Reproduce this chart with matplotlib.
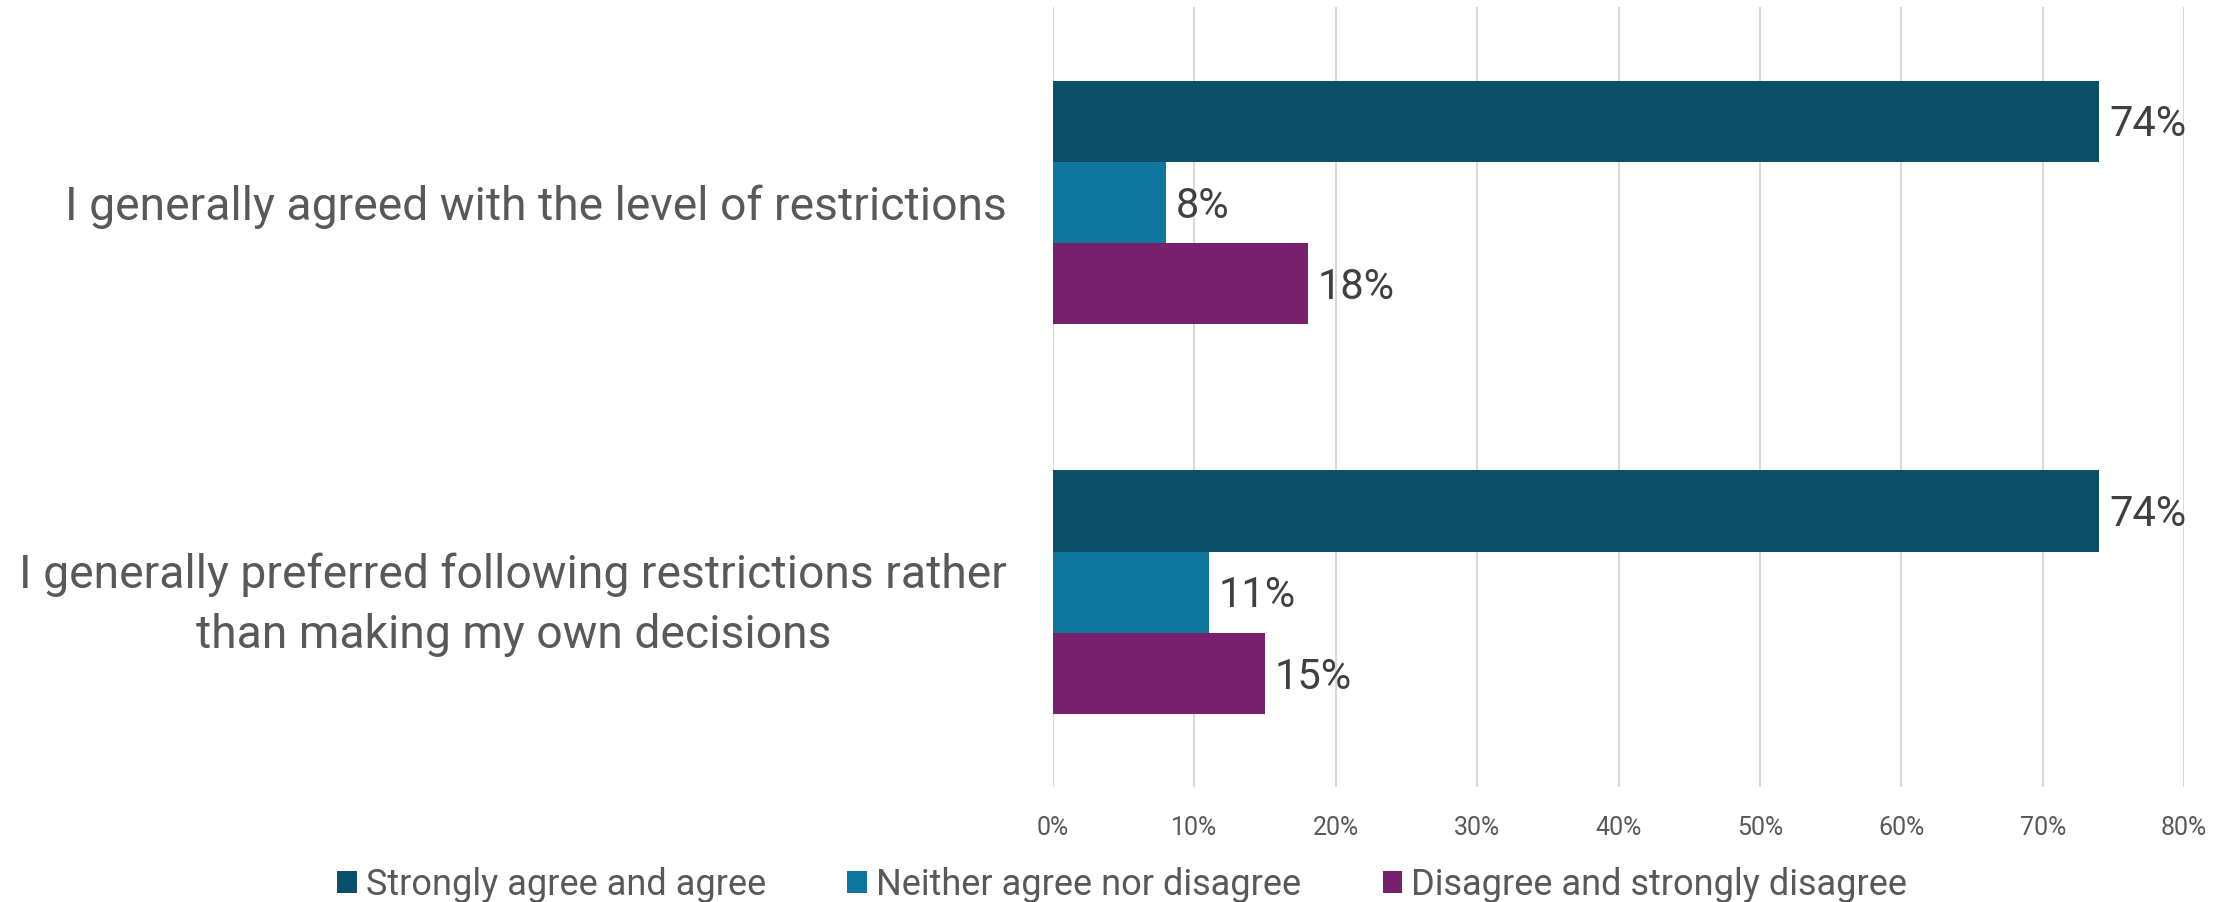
import numpy as np
import matplotlib.pyplot as plt

plt.rcParams['font.family'] = ['Roboto', 'DejaVu Sans']

statements = [
    'I generally agreed with the level of restrictions',
    'I generally preferred following restrictions rather\nthan making my own decisions',
]
series = ['Strongly agree and agree', 'Neither agree nor disagree',
          'Disagree and strongly disagree']
agree = [74, 74]
neither = [8, 11]
disagree = [18, 15]
colors = ['#0b5068', '#0e769f', '#77206b']

fig = plt.figure(figsize=(22.31, 9.02), dpi=100)
ax = fig.add_axes([0.472, 0.1275, 0.507, 0.8645])

y = np.arange(len(statements))
h = 0.208
for i, (vals, name, c) in enumerate(zip([agree, neither, disagree], series, colors)):
    pos = y + (i - 1) * h
    bars = ax.barh(pos, vals, height=h, color=c, label=name, zorder=3)
    for b, v in zip(bars, vals):
        ax.text(b.get_width() + 0.7, b.get_y() + b.get_height() / 2 + 0.01, f'{v}%',
                va='center', ha='left', fontsize=30, color='#404040')

ax.set_xlim(0, 80)
ax.set_ylim(1.5, -0.5)
ax.set_xticks(range(0, 81, 10))
ax.set_xticklabels([f'{t}%' for t in range(0, 81, 10)])
ax.set_yticks(y)
ax.set_yticklabels(statements, multialignment='center', linespacing=1.45)
ax.tick_params(axis='y', length=0, pad=33, labelsize=33.3, labelcolor='#595959')
ax.tick_params(axis='x', length=0, pad=21, labelsize=18, labelcolor='#595959')
ax.grid(axis='x', color='#d9d9d9', linewidth=1.5, zorder=0)
for s in ax.spines.values():
    s.set_visible(False)

fig.legend(loc='center', bbox_to_anchor=(0.503, 0.019), ncol=3, frameon=False,
           fontsize=26, labelcolor='#595959', handlelength=0.55, handleheight=0.55,
           handletextpad=0.25, columnspacing=2.25)

fig.savefig('out.png', dpi=100)
